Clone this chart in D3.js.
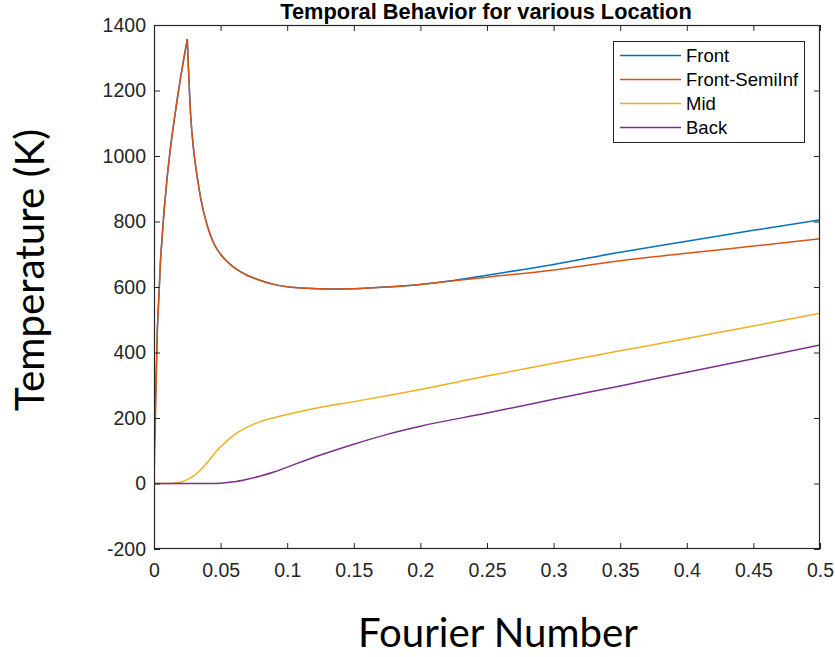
<!DOCTYPE html>
<html>
<head>
<meta charset="utf-8">
<script src="https://cdn.jsdelivr.net/npm/d3@7"></script>
<style>
  html, body { margin: 0; padding: 0; background: #fff; }
  svg { display: block; }
</style>
</head>
<body>
<svg id="chart" width="835" height="657"></svg>
<script>
// ---------- data ----------
const seriesNames = ["Front", "Front-SemiInf", "Mid", "Back"];
const seriesColors = ["#0072BD", "#D95319", "#EDB120", "#7E2F8E"];

// Front / Front-SemiInf (shared grid)
const tFront = [0, 0.0025, 0.005, 0.0075, 0.01, 0.0125, 0.015, 0.0175, 0.02, 0.0225, 0.025,
  0.0275, 0.03, 0.0325, 0.035, 0.04, 0.045, 0.05, 0.06, 0.07, 0.08, 0.09, 0.1, 0.115, 0.13,
  0.15, 0.175, 0.2, 0.225, 0.25, 0.3, 0.35, 0.4, 0.45, 0.5];
const front = [80, 470, 690, 830, 940, 1030, 1105, 1175, 1240, 1300, 1357,
  1125, 1010, 935, 872, 787, 732, 700, 660, 636, 620, 608, 601, 596, 594,
  595, 600, 608, 620, 636, 669, 706, 740, 773, 805];
const frontSemiInf = [0, 470, 690, 830, 940, 1030, 1105, 1175, 1240, 1300, 1357,
  1125, 1010, 935, 872, 787, 732, 700, 660, 636, 620, 608, 601, 596, 594,
  595, 600, 608, 619, 630, 652, 680, 703, 725, 747];
const peakIndex = 10;

// Mid
const tMid = [0, 0.01, 0.015, 0.02, 0.025, 0.03, 0.035, 0.04, 0.045, 0.05, 0.06, 0.07, 0.08,
  0.09, 0.1, 0.125, 0.15, 0.175, 0.2, 0.25, 0.3, 0.35, 0.4, 0.45, 0.5];
const mid = [0, 0, 1, 4, 12, 24, 42, 64, 90, 112, 148, 172, 189,
  201, 211, 233, 250, 268, 287, 328, 367, 405, 443, 481, 520];

// Back
const tBack = [0, 0.03, 0.04, 0.05, 0.06, 0.07, 0.08, 0.09, 0.1, 0.125, 0.15, 0.175, 0.2,
  0.25, 0.3, 0.35, 0.4, 0.45, 0.5];
const back = [0, 0, 0, 1, 5, 13, 23, 35, 50, 87, 120, 150, 175,
  215, 257, 298, 340, 381, 423];

const xTicks = [0, 0.05, 0.1, 0.15, 0.2, 0.25, 0.3, 0.35, 0.4, 0.45, 0.5];
const xTickLabels = ["0", "0.05", "0.1", "0.15", "0.2", "0.25", "0.3", "0.35", "0.4", "0.45", "0.5"];
const yTicks = [-200, 0, 200, 400, 600, 800, 1000, 1200, 1400];
const yTickLabels = ["-200", "0", "200", "400", "600", "800", "1000", "1200", "1400"];

const titleText = "Temporal Behavior for various Location";
const xLabelText = "Fourier Number";
const yLabelText = "Temperature (K)";

// ---------- layout ----------
const plot = { left: 154, right: 820, top: 25, bottom: 549 };
const axisColor = "#262626";
const tickFont = "Liberation Sans, Arial, sans-serif";

const svg = d3.select("#chart");

const x = d3.scaleLinear().domain([0, 0.5]).range([plot.left, plot.right]);
const y = d3.scaleLinear().domain([-200, 1400]).range([plot.bottom, plot.top]);

svg.append("rect").attr("x", plot.left).attr("y", plot.top)
  .attr("width", plot.right - plot.left).attr("height", plot.bottom - plot.top)
  .attr("fill", "#fff");

// ---------- lines ----------
svg.append("clipPath").attr("id", "clip").append("rect")
  .attr("x", plot.left).attr("y", plot.top)
  .attr("width", plot.right - plot.left).attr("height", plot.bottom - plot.top);

const g = svg.append("g").attr("clip-path", "url(#clip)");

function pts(ts, vs) { return ts.map((t, i) => [t, vs[i]]); }
const lineSmooth = d3.line().x(d => x(d[0])).y(d => y(d[1])).curve(d3.curveMonotoneX);
const lineStraight = d3.line().x(d => x(d[0])).y(d => y(d[1])).curve(d3.curveLinear);

function drawFront(vs, color) {
  const p = pts(tFront, vs);
  g.append("path").attr("d", lineStraight(p.slice(0, peakIndex + 1)))
    .attr("fill", "none").attr("stroke", color).attr("stroke-width", 1.5)
    .attr("stroke-linejoin", "round");
  g.append("path").attr("d", lineSmooth(p.slice(peakIndex)))
    .attr("fill", "none").attr("stroke", color).attr("stroke-width", 1.5)
    .attr("stroke-linejoin", "round");
}
drawFront(front, seriesColors[0]);
drawFront(frontSemiInf, seriesColors[1]);
g.append("path").attr("d", lineSmooth(pts(tMid, mid)))
  .attr("fill", "none").attr("stroke", seriesColors[2]).attr("stroke-width", 1.5);
g.append("path").attr("d", lineSmooth(pts(tBack, back)))
  .attr("fill", "none").attr("stroke", seriesColors[3]).attr("stroke-width", 1.5);

// ---------- axes ----------
function styleAxis(sel) {
  sel.select(".domain").remove();
  sel.selectAll(".tick line").attr("stroke", axisColor).attr("stroke-width", 1);
  sel.selectAll(".tick text").attr("fill", axisColor)
    .style("font-family", tickFont).style("font-size", "19.5px");
}

const xAxisB = d3.axisBottom(x).tickValues(xTicks)
  .tickFormat((d, i) => xTickLabels[i]).tickSizeInner(-6).tickSizeOuter(0).tickPadding(14);
svg.append("g").attr("transform", `translate(0,${plot.bottom})`).call(xAxisB).call(styleAxis);

const xAxisT = d3.axisTop(x).tickValues(xTicks).tickFormat("").tickSizeInner(-6).tickSizeOuter(0);
svg.append("g").attr("transform", `translate(0,${plot.top})`).call(xAxisT).call(styleAxis);

const yAxisL = d3.axisLeft(y).tickValues(yTicks)
  .tickFormat((d, i) => yTickLabels[i]).tickSizeInner(-6).tickSizeOuter(0).tickPadding(8);
svg.append("g").attr("transform", `translate(${plot.left},0)`).call(yAxisL).call(styleAxis);

const yAxisR = d3.axisRight(y).tickValues(yTicks).tickFormat("").tickSizeInner(-6).tickSizeOuter(0);
svg.append("g").attr("transform", `translate(${plot.right},0)`).call(yAxisR).call(styleAxis);

svg.append("rect").attr("x", plot.left + 0.5).attr("y", plot.top + 0.5)
  .attr("width", plot.right - plot.left - 1).attr("height", plot.bottom - plot.top - 1)
  .attr("fill", "none").attr("stroke", axisColor).attr("stroke-width", 1.2);

// ---------- title ----------
svg.append("text").attr("x", (plot.left + plot.right) / 2 - 1).attr("y", 19)
  .attr("text-anchor", "middle")
  .style("font-family", tickFont).style("font-weight", "bold").style("font-size", "21.8px")
  .attr("fill", "#000").text(titleText);

// ---------- axis labels (fit to width) ----------
function fitText(sel, targetWidth) {
  const w = sel.node().getComputedTextLength();
  const fs = parseFloat(sel.style("font-size"));
  sel.style("font-size", (fs * targetWidth / w) + "px");
}
const xl = svg.append("text").attr("x", 498).attr("y", 647).attr("text-anchor", "middle")
  .style("font-family", "Lato, 'Open Sans', sans-serif").style("font-size", "38px")
  .attr("fill", "#000").text(xLabelText);
fitText(xl, 280);

const yl = svg.append("text").attr("transform", "translate(44,270) rotate(-90)")
  .attr("text-anchor", "middle")
  .style("font-family", "Lato, 'Open Sans', sans-serif").style("font-size", "38px")
  .attr("fill", "#000").text(yLabelText);
fitText(yl, 282);

// ---------- legend ----------
const leg = { x: 613, y: 41, w: 191, h: 101 };
const lg = svg.append("g");
lg.append("rect").attr("x", leg.x + 0.5).attr("y", leg.y + 0.5).attr("width", leg.w).attr("height", leg.h)
  .attr("fill", "#fff").attr("stroke", axisColor).attr("stroke-width", 1);
const rowY = [55.5, 79.5, 103.5, 127.5];
seriesNames.forEach((name, i) => {
  lg.append("line").attr("x1", 620).attr("x2", 681).attr("y1", rowY[i]).attr("y2", rowY[i])
    .attr("stroke", seriesColors[i]).attr("stroke-width", 1.5);
  lg.append("text").attr("x", 686).attr("y", rowY[i]).attr("dy", "0.36em")
    .style("font-family", tickFont).style("font-size", "18.5px")
    .attr("fill", "#000").text(name);
});
</script>
</body>
</html>
